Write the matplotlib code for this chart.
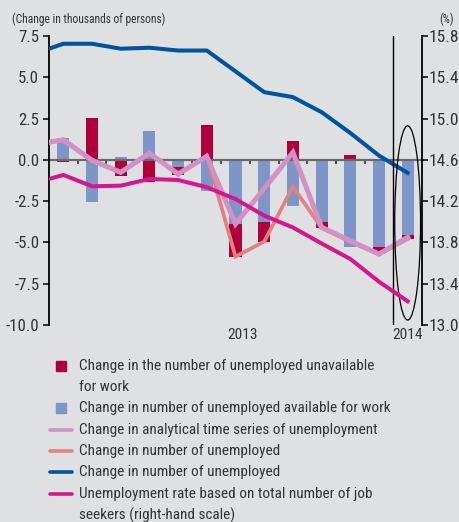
import matplotlib
matplotlib.use('Agg')
import matplotlib.pyplot as plt
import numpy as np
from matplotlib.patches import Ellipse, Rectangle
from matplotlib.lines import Line2D
import matplotlib.transforms as mtransforms
from matplotlib import font_manager as fm

# ---- data ----
line_months = list(range(-1, 13))   # -1 = previous month (clipped at the left edge)
bar_months = list(range(13))
unavailable = [-0.10, 2.55, -0.95, -1.35, -0.45, 2.12, -1.98, -1.17, 1.15, -0.34, 0.30, -0.48, -0.24]
available = [1.33, -2.53, 0.16, 1.76, -0.45, -1.86, -3.88, -3.78, -2.77, -3.78, -5.25, -5.25, -4.55]
analytical = [0.93, 1.21, -0.04, -0.75, 0.40, -0.85, 0.20, -3.88, -1.74, 0.45, -4.08, -4.90, -5.70, -4.69]
unemployed = [0.93, 1.23, 0.02, -0.79, 0.41, -0.90, 0.26, -5.86, -4.95, -1.62, -4.12, -4.95, -5.73, -4.79]
employed = [6.43, 7.03, 7.03, 6.73, 6.79, 6.62, 6.62, 5.36, 4.10, 3.80, 2.89, 1.63, 0.26, -0.79]
rate = [14.376, 14.454, 14.344, 14.35, 14.415, 14.405, 14.335, 14.22, 14.06, 13.945, 13.79, 13.64, 13.42, 13.23]
year_labels = ["2013", "2014"]
year_pos = [6.25, 12]
left_ticks = [7.5, 5.0, 2.5, 0.0, -2.5, -5.0, -7.5, -10.0]
right_ticks = [15.8, 15.4, 15.0, 14.6, 14.2, 13.8, 13.4, 13.0]
legend_labels = [
    "Change in the number of unemployed unavailable\nfor work",
    "Change in number of unemployed available for work",
    "Change in analytical time series of unemployment",
    "Change in number of unemployed",
    "Change in number of unemployed",
    "Unemployment rate based on total number of job\nseekers (right-hand scale)",
]

BG = '#dfe0e2'
C_RED = '#b0003c'
C_BBAR = '#7e95c7'
C_ANA = '#d290c4'
C_UNE = '#e08282'
C_EMP = '#0053a0'
C_RATE = '#d5168c'
TXT = '#333333'


def pick_font():
    prefs = ['Liberation Sans Narrow', 'Roboto Condensed', 'Open Sans Condensed',
             'Noto Sans Condensed', 'Noto Sans SemiCondensed', 'DejaVu Sans Condensed']
    cands = []
    for f in fm.fontManager.ttflist:
        st = f.style
        w = f.weight
        wnum = w if isinstance(w, int) else {'normal': 400, 'regular': 400, 'book': 400}.get(str(w).lower(), 700)
        if st != 'normal' or wnum not in (400, 'normal'):
            continue
        stretch = f.stretch
        is_cond = ('Narrow' in f.name or 'Condensed' in f.name or
                   (isinstance(stretch, str) and 'condensed' in stretch and 'extra' not in stretch and 'ultra' not in stretch) or
                   (isinstance(stretch, int) and 300 <= stretch < 500))
        if is_cond:
            fnl = f.fname.lower()
            if 'extracondensed' in fnl or 'ultracondensed' in fnl:
                continue
            score = 100
            for i, p in enumerate(prefs):
                if p.lower().replace(' ', '') in (f.name + f.fname).lower().replace(' ', '').replace('-', ''):
                    score = i
            if 'semicondensed' in fnl:
                score += 5
            cands.append((score, f.fname))
    if cands:
        cands.sort()
        return fm.FontProperties(fname=cands[0][1])
    for f in fm.fontManager.ttflist:
        if f.name == 'Liberation Sans' and f.style == 'normal' and f.weight in (400, 'normal', 'regular'):
            return fm.FontProperties(fname=f.fname)
    return fm.FontProperties(family='DejaVu Sans')


FP = pick_font()

W, H = 459, 522
fig = plt.figure(figsize=(W / 100, H / 100), dpi=100, facecolor=BG)
ax = fig.add_axes([49 / W, 1 - 325 / H, (422 - 49) / W, (325 - 36) / H])
ax.set_facecolor(BG)
ax2 = ax.twinx()

# bars
av = np.array(available)
un = np.array(unavailable)
red_bottom = np.where(np.sign(av) == np.sign(un), av, 0.0)
ax.bar(bar_months, available, width=0.42, color=C_BBAR, zorder=1)
ax.bar(bar_months, unavailable, width=0.42, bottom=red_bottom, color=C_RED, zorder=1)

# lines
ax.plot(line_months, unemployed, color=C_UNE, lw=2.7, zorder=3, solid_joinstyle='miter')
ax.plot(line_months, analytical, color=C_ANA, lw=3.6, zorder=3.2, solid_joinstyle='miter')
ax.plot(line_months, employed, color=C_EMP, lw=2.9, zorder=3.4)
ax2.plot(line_months, rate, color=C_RATE, lw=2.9, zorder=3)

ax.set_xlim(-0.5, 12.5)
ax.set_ylim(-10, 7.5)
ax2.set_ylim(13.0, 15.8)

# spines
for s in ['top', 'right']:
    ax.spines[s].set_visible(False)
ax.spines['left'].set_color('black')
ax.spines['left'].set_linewidth(1.3)
ax.spines['bottom'].set_position(('data', 0))
ax.spines['bottom'].set_color('#6a6a6a')
ax.spines['bottom'].set_linewidth(1.6)
ax.spines['bottom'].set_zorder(2)
for s in ['top', 'left', 'bottom']:
    ax2.spines[s].set_visible(False)
ax2.spines['right'].set_color('black')
ax2.spines['right'].set_linewidth(1.3)

ax.set_xticks([i + 0.5 for i in range(12)])
ax.set_xticklabels([])
ax.tick_params(axis='x', direction='out', length=3, width=1.2, color='#333333')
ax.set_yticks(left_ticks)
ax.set_yticklabels([f"{v:.1f}" for v in left_ticks])
ax.tick_params(axis='y', direction='out', length=4.5, width=1.1, pad=2.5, labelcolor=TXT)
ax2.set_yticks(right_ticks)
ax2.set_yticklabels([f"{v:.1f}" for v in right_ticks])
ax2.tick_params(axis='y', direction='out', length=4.5, width=1.1, pad=0.5, labelcolor=TXT)

# separator and ellipse
ax.axvline(11.5, color='black', lw=1.0, zorder=4)
ax.add_patch(Ellipse((12, -3.82), width=0.9, height=11.76, fill=False,
                     ec='black', lw=0.9, zorder=4))

trans = mtransforms.blended_transform_factory(ax.transData, ax.transAxes)
year_texts = []
for lab, xp in zip(year_labels, year_pos):
    year_texts.append(ax.text(xp, -0.035, lab, transform=trans, ha='center', va='center',
                              color=TXT, fontproperties=FP))

t_top = fig.text(12 / W, 1 - 19 / H, "(Change in thousands of persons)", ha='left', va='center',
                 color=TXT, fontproperties=FP)
t_pct = fig.text(446 / W, 1 - 19 / H, "(%)", ha='center', va='center', color=TXT,
                 fontproperties=FP)

# legend (manual)
row_y = [366, 408, 430, 451, 472, 494]
legend_texts = []
for i, (lab, yy) in enumerate(zip(legend_labels, row_y)):
    yf = 1 - yy / H
    if i == 0 or i == 1:
        col = C_RED if i == 0 else C_BBAR
        fig.add_artist(Rectangle((56 / W, 1 - (yy + 5) / H), 10 / W, 10 / H,
                                 transform=fig.transFigure, color=col))
    else:
        col = [C_ANA, C_UNE, C_EMP, C_RATE][i - 2]
        fig.add_artist(Line2D([50 / W, 72 / W], [yf, yf], transform=fig.transFigure,
                              color=col, lw=2.6, solid_capstyle='round'))
    legend_texts.append(fig.text(79 / W, yf, lab.split("\n")[0], ha='left', va='center',
                                 color=TXT, fontproperties=FP))
    if "\n" in lab:
        legend_texts.append(fig.text(79 / W, 1 - (yy + 21) / H, lab.split("\n")[1], ha='left',
                                     va='center', color=TXT, fontproperties=FP))

for t in ax.get_yticklabels() + ax2.get_yticklabels():
    t.set_fontproperties(FP)


# size texts so that their widths match the reference (capped by glyph height)
def fit(texts, ref_text, target_w, max_pt):
    for t in texts:
        t.set_fontsize(10)
    fig.canvas.draw()
    r = fig.canvas.get_renderer()
    w = ref_text.get_window_extent(r).width
    size = min(max_pt, 10 * target_w / w)
    for t in texts:
        t.set_fontsize(size)


fig.canvas.draw()
left_labels = ax.get_yticklabels()
right_labels = ax2.get_yticklabels()
fit(left_labels, left_labels[-1], 33, 13)
fit(right_labels, right_labels[0], 30, 13)
fit(year_texts, year_texts[0], 30, 11.5)
fit([t_top, t_pct], t_top, 153, 10)
fit(legend_texts, legend_texts[2], 333, 11)

fig.savefig('out.png', dpi=100, facecolor=BG)
